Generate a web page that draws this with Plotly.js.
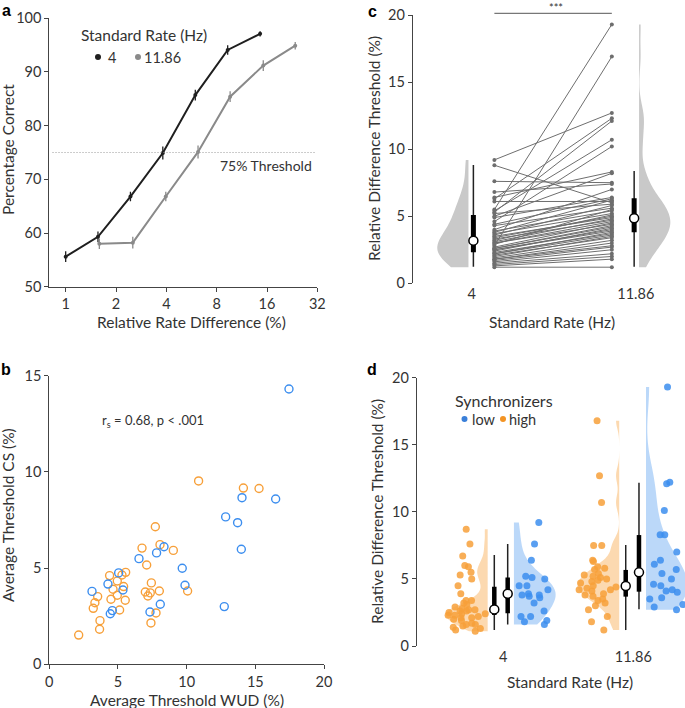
<!DOCTYPE html>
<html>
<head>
<meta charset="utf-8">
<script src="https://cdn.plot.ly/plotly-3.0.1.min.js"></script>
<style>
  html, body { margin: 0; padding: 0; background: #fff; }
  #fig { width: 685px; height: 708px; }
</style>
</head>
<body>
<div id="fig"></div>
<script>
// ---- panel a: psychometric curves (percentage correct by rate difference)
var rateDiff4 = [1, 1.56, 2.44, 3.81, 5.96, 9.31, 14.55]
var pctCorrect4 = [55.6, 59.3, 66.8, 74.9, 85.7, 94.1, 97.1]
var pctErr4 = [1.0, 1.0, 0.9, 1.2, 1.0, 0.9, 0.5]
var rateDiff1186 = [1.59, 2.52, 3.97, 6.19, 9.63, 15.2, 23.6]
var pctCorrect1186 = [58.0, 58.2, 66.8, 75.1, 85.4, 91.2, 94.9]
var pctErr1186 = [1.0, 1.1, 0.9, 1.2, 1.0, 1.0, 0.7]
var thresholdLevel = 75

// ---- panel b: average thresholds, WUD vs CS
var wudLow = [17.45, 16.48, 14.03, 12.84, 13.71, 13.98, 12.74, 9.68, 9.88, 8.35, 7.81, 6.53, 8.08, 7.33, 5.05, 4.27, 3.11, 5.36, 4.59, 4.44]
var csLow = [14.31, 8.59, 8.66, 7.66, 7.36, 5.98, 3.0, 4.99, 4.11, 6.11, 5.79, 5.49, 3.12, 2.72, 4.75, 4.17, 3.79, 3.86, 2.79, 2.63]
var wudHigh = [10.87, 14.13, 15.27, 7.72, 6.75, 8.06, 9.03, 7.09, 5.56, 4.39, 4.95, 5.29, 7.43, 5.41, 4.64, 3.52, 4.49, 4.95, 5.53, 3.32, 3.20, 6.99, 7.35, 7.18, 8.01, 10.07, 5.12, 7.77, 7.40, 3.69, 3.66, 2.14]
var csHigh = [9.53, 9.16, 9.14, 7.15, 6.04, 6.22, 5.92, 5.16, 4.78, 4.61, 4.33, 4.64, 4.23, 4.04, 3.90, 3.52, 3.38, 3.59, 3.33, 3.20, 2.91, 3.76, 3.71, 3.55, 3.81, 3.81, 2.82, 2.67, 2.15, 2.27, 1.82, 1.52]

// ---- panel c: paired thresholds per participant (4 Hz, 11.86 Hz)
var thr4 = [9.2, 8.8, 7.6, 6.8, 6.4, 6.3, 6.1, 5.5, 5.4, 5.3, 5.2, 5.0, 4.9, 4.6, 4.4, 4.3, 4.0, 3.9, 3.8, 3.7,
            3.6, 3.5, 3.4, 3.3, 3.2, 3.1, 3.0, 3.0, 2.9, 2.8, 2.7, 2.6, 2.6, 2.5, 2.5, 2.4, 2.3, 2.2, 2.2, 2.1,
            2.0, 1.9, 1.8, 1.8, 1.7, 1.6, 1.5, 1.4, 1.3, 1.2]
var thr1186 = [12.7, 6.0, 7.5, 7.4, 8.3, 12.3, 6.1, 19.3, 10.7, 12.1, 5.9, 8.2, 6.4, 10.2, 6.3, 5.6, 7.0, 5.4, 6.2, 5.2,
               5.8, 4.9, 5.0, 4.7, 5.1, 4.8, 4.6, 4.4, 5.5, 16.9, 4.5, 4.2, 4.3, 4.0, 3.9, 4.1, 3.7, 3.6, 3.8, 3.4,
               3.5, 3.2, 3.0, 2.8, 2.7, 2.5, 2.2, 2.0, 1.8, 1.2]
// box summaries: [whisker low, q1, median, q3, whisker high]
var boxC4 = [1.24, 2.31, 3.18, 5.09, 8.82]
var boxC1186 = [1.24, 3.80, 4.85, 6.34, 8.37]

// ---- panel d: thresholds split by synchronizer group
var high4 = [8.7, 7.6, 6.7, 6.0, 5.9, 5.5, 5.3, 5.0, 4.5, 3.9, 3.4, 3.4, 3.2, 3.1, 2.9, 2.8, 2.7, 2.7, 2.6, 2.6,
             2.5, 2.4, 2.4, 2.3, 2.3, 2.2, 2.1, 2.1, 2.0, 1.9, 1.7, 1.6, 1.6, 1.5, 1.4, 1.3, 1.2, 1.1]
var low4 = [9.2, 7.6, 6.4, 5.0, 5.1, 5.2, 4.5, 4.5, 4.2, 3.8, 3.9, 3.8, 3.7, 3.6, 3.2, 2.6, 2.2, 2.2, 1.9, 1.8, 1.6]
var high1186 = [16.8, 12.7, 10.7, 7.5, 7.5, 6.4, 6.3, 5.9, 5.8, 5.7, 5.4, 5.3, 5.2, 5.1, 5.0, 4.9, 4.8, 4.7, 4.5, 4.4,
                4.3, 4.2, 4.2, 4.1, 3.9, 3.8, 3.7, 3.5, 3.4, 3.2, 3.0, 2.7, 2.2, 1.8, 1.2]
var low1186 = [19.3, 12.2, 12.1, 10.1, 8.3, 8.3, 7.0, 6.4, 6.1, 5.7, 5.4, 5.0, 4.6, 4.5, 4.2, 4.1, 4.0, 3.6, 3.5, 3.1, 2.9, 2.7]
var boxHigh4 = [1.19, 2.31, 2.73, 4.42, 6.78]
var boxLow4 = [1.6, 2.45, 3.9, 5.1, 7.6]
var boxHigh1186 = [1.19, 3.68, 4.47, 5.67, 7.53]
var boxLow1186 = [2.74, 4.05, 5.49, 8.27, 12.17]

var W = 685, H = 708
function px(x) { return x / W }
function py(y) { return 1 - y / H }

var FONT = 'Lato, "Open Sans", sans-serif'
var TXT = '#333'
var BLACK_LINE = '#1f1f1f'
var GREY_LINE = '#8a8a8a'
var ORANGE = '#F7A03A'
var BLUE = '#3C8EEF'

var traces = []

// panel a
traces.push({
    x: rateDiff4, y: pctCorrect4, xaxis: 'x', yaxis: 'y',
    mode: 'lines+markers', type: 'scatter',
    line: { color: BLACK_LINE, width: 2 },
    marker: { color: BLACK_LINE, size: 4 },
    error_y: { type: 'data', array: pctErr4, color: BLACK_LINE, thickness: 1.3, width: 0 },
    showlegend: false, hoverinfo: 'skip'
})
traces.push({
    x: rateDiff1186, y: pctCorrect1186, xaxis: 'x', yaxis: 'y',
    mode: 'lines+markers', type: 'scatter',
    line: { color: GREY_LINE, width: 2 },
    marker: { color: GREY_LINE, size: 4 },
    error_y: { type: 'data', array: pctErr1186, color: GREY_LINE, thickness: 1.3, width: 0 },
    showlegend: false, hoverinfo: 'skip'
})

// panel b
traces.push({
    x: wudHigh, y: csHigh, xaxis: 'x2', yaxis: 'y2',
    mode: 'markers', type: 'scatter',
    marker: { symbol: 'circle-open', color: ORANGE, size: 8, line: { width: 1.4 } },
    showlegend: false, hoverinfo: 'skip'
})
traces.push({
    x: wudLow, y: csLow, xaxis: 'x2', yaxis: 'y2',
    mode: 'markers', type: 'scatter',
    marker: { symbol: 'circle-open', color: BLUE, size: 8, line: { width: 1.4 } },
    showlegend: false, hoverinfo: 'skip'
})

// panel c
var posC = { v4: -0.02, b4: 0.01, p4: 0.138, p1186: 0.854, b1186: 0.99, v1186: 1.02 }
traces.push({
    type: 'violin', y: thr4, x0: posC.v4, xaxis: 'x3', yaxis: 'y3',
    side: 'negative', width: 0.38, scalemode: 'width', spanmode: 'hard',
    fillcolor: '#c9c9c9', line: { width: 0, color: '#c9c9c9' }, points: false,
    showlegend: false, hoverinfo: 'skip'
})
traces.push({
    type: 'violin', y: thr1186, x0: posC.v1186, xaxis: 'x3', yaxis: 'y3',
    side: 'positive', width: 0.38, scalemode: 'width', spanmode: 'hard',
    fillcolor: '#c9c9c9', line: { width: 0, color: '#c9c9c9' }, points: false,
    showlegend: false, hoverinfo: 'skip'
})
var pairX = [], pairY = []
for (let i = 0; i < thr4.length; i++) {
    pairX.push(posC.p4, posC.p1186, null)
    pairY.push(thr4[i], thr1186[i], null)
}
traces.push({
    x: pairX, y: pairY, xaxis: 'x3', yaxis: 'y3',
    mode: 'lines+markers', type: 'scatter',
    line: { color: '#6e6e6e', width: 1 },
    marker: { color: '#6e6e6e', size: 4 },
    showlegend: false, hoverinfo: 'skip'
})

function boxTraces(pos, st, xa, ya, thick) {
    return [
        { x: [pos, pos], y: [st[0], st[4]], xaxis: xa, yaxis: ya, mode: 'lines', type: 'scatter',
          line: { color: '#222', width: 1.5 }, showlegend: false, hoverinfo: 'skip' },
        { x: [pos, pos], y: [st[1], st[3]], xaxis: xa, yaxis: ya, mode: 'lines', type: 'scatter',
          line: { color: '#000', width: thick }, showlegend: false, hoverinfo: 'skip' },
        { x: [pos], y: [st[2]], xaxis: xa, yaxis: ya, mode: 'markers', type: 'scatter',
          marker: { color: '#fff', size: 9, line: { color: '#000', width: 1.5 } },
          showlegend: false, hoverinfo: 'skip' }
    ]
}
traces = traces.concat(boxTraces(posC.b4, boxC4, 'x3', 'y3', 5))
traces = traces.concat(boxTraces(posC.b1186, boxC1186, 'x3', 'y3', 5))

// panel d: a filled half violin, then the same values as jittered dots
// (plotly narrows a violin that also shows its points, so they are split)
function rainViolin(vals, pos, side, fill, dot, bw) {
    var shape = {
        type: 'violin', y: vals, x0: pos, xaxis: 'x4', yaxis: 'y4',
        side: side, width: 0.64, scalemode: 'width', spanmode: 'hard',
        fillcolor: fill, line: { width: 0, color: fill }, points: false,
        showlegend: false, hoverinfo: 'skip'
    }
    if (bw) shape.bandwidth = bw
    var dots = {
        type: 'violin', y: vals, x0: pos, xaxis: 'x4', yaxis: 'y4',
        side: side, width: 0.64, spanmode: 'hard',
        fillcolor: 'rgba(0,0,0,0)', line: { width: 0, color: 'rgba(0,0,0,0)' },
        points: 'all', jitter: 0.5, pointpos: side === 'negative' ? -0.5 : 0.5,
        marker: { color: dot, size: 7, opacity: 0.85, line: { width: 0 } },
        showlegend: false, hoverinfo: 'skip'
    }
    return [shape, dots]
}
var fillOrange = 'rgba(247,160,58,0.4)'
var fillBlue = 'rgba(60,142,239,0.35)'
traces = traces.concat(rainViolin(high4, -0.12, 'negative', fillOrange, ORANGE, 0.5))
traces = traces.concat(rainViolin(low4, 0.082, 'positive', fillBlue, BLUE))
traces = traces.concat(rainViolin(high1186, 0.892, 'negative', fillOrange, ORANGE, 0.6))
traces = traces.concat(rainViolin(low1186, 1.098, 'positive', fillBlue, BLUE))
traces = traces.concat(boxTraces(-0.069, boxHigh4, 'x4', 'y4', 4.5))
traces = traces.concat(boxTraces(0.034, boxLow4, 'x4', 'y4', 4.5))
traces = traces.concat(boxTraces(0.942, boxHigh1186, 'x4', 'y4', 4.5))
traces = traces.concat(boxTraces(1.044, boxLow1186, 'x4', 'y4', 4.5))

var baseAxis = {
    showline: true, linecolor: '#444', linewidth: 1,
    ticks: 'outside', ticklen: 4, tickcolor: '#444', tickwidth: 1,
    showgrid: false, zeroline: false,
    tickfont: { family: FONT, size: 14.5, color: TXT },
    fixedrange: true
}
function ax(extra) { return Object.assign({}, baseAxis, extra) }

var annotations = []
function note(text, x, y, opts, size) {
    annotations.push(Object.assign({
        text: text, x: px(x), y: py(y), xref: 'paper', yref: 'paper',
        showarrow: false, xanchor: 'center', yanchor: 'middle',
        font: { family: FONT, size: size || 15.5, color: TXT }
    }, opts || {}))
}
// panel letters
var letterFont = { family: '"Liberation Sans", Arial, sans-serif', size: 16, color: '#000' }
note('<b>a</b>', 6, 11, { font: letterFont })
note('<b>c</b>', 372, 12, { font: letterFont })
note('<b>b</b>', 6, 369, { font: letterFont })
note('<b>d</b>', 372, 369, { font: letterFont })
// axis titles
note('Relative Rate Difference (%)', 191, 322)
note('Percentage Correct', 8, 150, { textangle: -90 })
note('Average Threshold WUD (%)', 187, 700)
note('Average Threshold CS (%)', 8, 515, { textangle: -90 })
note('Standard Rate (Hz)', 552, 322)
note('Relative Difference Threshold (%)', 374, 148, { textangle: -90 })
note('Standard Rate (Hz)', 570, 682)
note('Relative Difference Threshold (%)', 377, 512, { textangle: -90 })
// legends and labels
note('Standard Rate (Hz)', 79, 35, { xanchor: 'left' })
note('4', 106, 57, { xanchor: 'left' }, 14.5)
note('11.86', 142, 57, { xanchor: 'left' }, 14.5)
note('75% Threshold', 314, 165, { xanchor: 'right' }, 14)
note('r<sub>s</sub> = 0.68, p < .001', 100, 421, { xanchor: 'left' }, 13)
note('***', 556, 7, {}, 11)
note('Synchronizers', 453, 400, { xanchor: 'left' }, 16)
note('low', 470, 419, { xanchor: 'left' }, 14.5)
note('high', 507, 419, { xanchor: 'left' }, 14.5)

function dot(cx, cy, r, color) {
    return { type: 'circle', xref: 'paper', yref: 'paper',
        x0: px(cx - r), x1: px(cx + r), y0: py(cy + r), y1: py(cy - r),
        fillcolor: color, line: { width: 0 } }
}

var shapes = [
    { type: 'line', xref: 'x domain', yref: 'y', x0: 0.012, x1: 0.992, y0: thresholdLevel, y1: thresholdLevel,
      line: { color: '#9a9a9a', width: 1, dash: '1px,2px' } },
    { type: 'line', xref: 'x3', yref: 'paper', x0: posC.p4, x1: posC.p1186, y0: py(13.3), y1: py(13.3),
      line: { color: '#555', width: 1 } },
    dot(98, 57, 3, BLACK_LINE),
    dot(138, 57, 3, GREY_LINE),
    dot(464.5, 419, 3, '#3A7FD9'),
    dot(503, 419, 3, '#F39323')
]

var layout = {
    width: W, height: H,
    margin: { l: 0, r: 0, t: 0, b: 0 },
    paper_bgcolor: '#fff', plot_bgcolor: 'rgba(0,0,0,0)',
    font: { family: FONT, size: 14, color: TXT },
    showlegend: false,
    violinmode: 'overlay',
    xaxis: ax({ type: 'log', domain: [px(49.3), px(317.3)], range: [-0.098, 1.505],
        tickvals: [1, 2, 4, 8, 16, 32], ticktext: ['1', '2', '4', '8', '16', '32'], anchor: 'y' }),
    yaxis: ax({ domain: [py(286.7), py(18.3)], range: [50, 100], tickvals: [50, 60, 70, 80, 90, 100], anchor: 'x' }),
    xaxis2: ax({ domain: [px(49.3), px(324)], range: [0, 20], tickvals: [0, 5, 10, 15, 20], anchor: 'y2' }),
    yaxis2: ax({ domain: [py(664.3), py(375.7)], range: [0, 15], tickvals: [0, 5, 10, 15], anchor: 'x2' }),
    xaxis3: ax({ domain: [px(412.7), 1], range: [-0.36, 1.30], showline: false, ticks: '',
        tickvals: [0, 1], ticktext: ['4', '11.86'], anchor: 'y3' }),
    yaxis3: ax({ domain: [py(283.3), py(15)], range: [0, 20], tickvals: [0, 5, 10, 15, 20], anchor: 'x3' }),
    xaxis4: ax({ domain: [px(416.7), 1], range: [-0.666, 1.398], showline: false, ticks: '',
        tickvals: [0, 1], ticktext: ['4', '11.86'], anchor: 'y4' }),
    yaxis4: ax({ domain: [py(646), py(377.7)], range: [0, 20], tickvals: [0, 5, 10, 15, 20], anchor: 'x4' }),
    annotations: annotations,
    shapes: shapes
}

Plotly.newPlot('fig', traces, layout, { displayModeBar: false, staticPlot: true })
</script>
</body>
</html>
